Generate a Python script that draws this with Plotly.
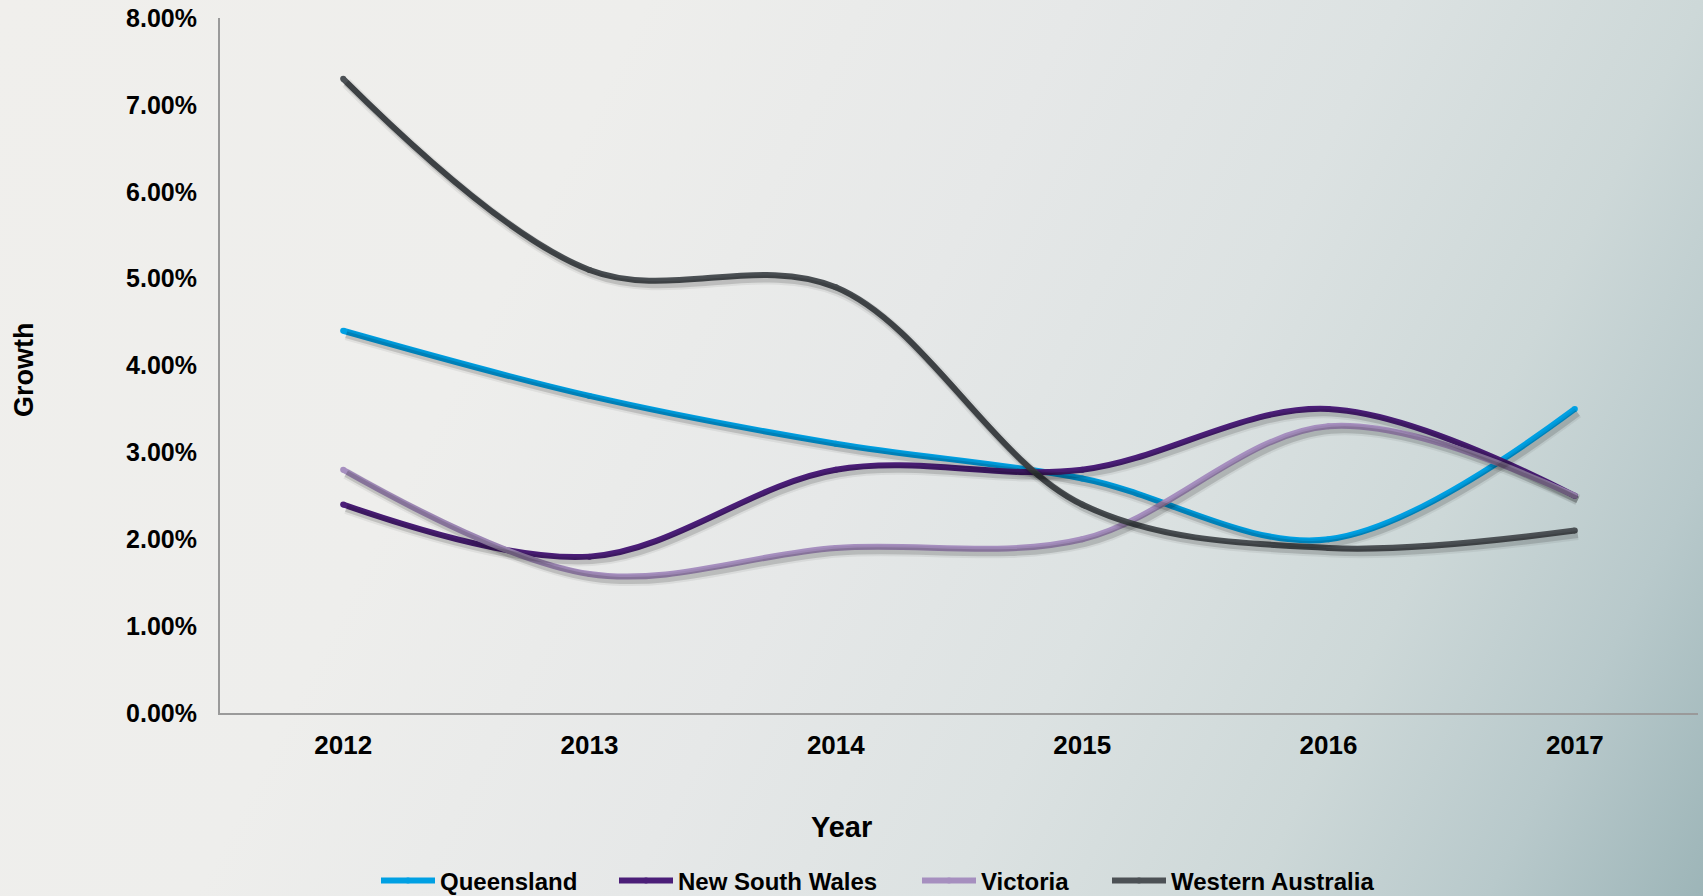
import base64
import plotly.graph_objects as go

# Annual growth by state (percent)
years = ["2012", "2013", "2014", "2015", "2016", "2017"]
queensland = [4.40, 3.65, 3.10, 2.70, 2.00, 3.50]
new_south_wales = [2.40, 1.80, 2.80, 2.80, 3.50, 2.50]
victoria = [2.80, 1.60, 1.90, 2.00, 3.30, 2.50]
western_australia = [7.30, 5.10, 4.90, 2.40, 1.90, 2.10]

series_names = ["Queensland", "New South Wales", "Victoria", "Western Australia"]
series_values = [queensland, new_south_wales, victoria, western_australia]
series_colors = ["#00a0e3", "#4b1e78", "#a68fbf", "#4c5155"]

y_ticks = [0, 1, 2, 3, 4, 5, 6, 7, 8]
y_tick_text = [f"{v:.2f}%" for v in y_ticks]

W, H = 1703, 896
M_L, M_R, M_T, M_B = 220, 5, 18, 183
PW, PH = W - M_L - M_R, H - M_T - M_B

# left edge (px) of each legend entry along the bottom row
legend_left_px = [376, 614, 917, 1107]
legend_mid_px = 881

# soft diagonal backdrop
svg = f"""<svg xmlns='http://www.w3.org/2000/svg' width='{W}' height='{H}' viewBox='0 0 {W} {H}' preserveAspectRatio='none'>
<defs><linearGradient id='g' gradientUnits='userSpaceOnUse' x1='0' y1='0' x2='1718' y2='866'>
<stop offset='0' stop-color='#f0efec'/>
<stop offset='0.3' stop-color='#eeeeec'/>
<stop offset='0.5' stop-color='#e6e8e8'/>
<stop offset='0.65' stop-color='#dce2e2'/>
<stop offset='0.79' stop-color='#cdd8d8'/>
<stop offset='0.9' stop-color='#b8c9cb'/>
<stop offset='1' stop-color='#9db5b8'/>
</linearGradient></defs>
<rect x='0' y='0' width='{W}' height='{H}' fill='url(#g)'/></svg>"""
bg_uri = "data:image/svg+xml;base64," + base64.b64encode(svg.encode()).decode()

fig = go.Figure()

# drop shadows on a slightly offset overlay axis pair
for vals in series_values:
    for width, alpha in ((11, 0.06), (7, 0.14)):
        fig.add_trace(go.Scatter(
            x=years, y=vals, mode="lines",
            line=dict(color=f"rgba(0,0,0,{alpha})", width=width, shape="spline", smoothing=1),
            xaxis="x2", yaxis="y2", showlegend=False, hoverinfo="skip",
        ))

legend_ids = ["legend", "legend2", "legend3", "legend4"]
for name, vals, color, lid in zip(series_names, series_values, series_colors, legend_ids):
    fig.add_trace(go.Scatter(
        x=years, y=vals, name=name, mode="lines+markers",
        line=dict(color=color, width=6, shape="spline", smoothing=1),
        marker=dict(color=color, size=6),
        legend=lid,
    ))

dx = 3 / (PW / 6)
dy = 4 / (PH / 8)

legend_font = dict(family="Liberation Sans", size=24, color="black", weight="bold")
legend_layouts = {}
for lid, left in zip(legend_ids, legend_left_px):
    legend_layouts[lid] = dict(
        orientation="h", x=(left - M_L) / PW, xanchor="left",
        y=-(legend_mid_px - (M_T + PH)) / PH, yanchor="middle",
        bgcolor="rgba(0,0,0,0)", borderwidth=0,
        font=legend_font, itemwidth=54,
    )

fig.update_layout(
    width=W, height=H,
    margin=dict(l=M_L, r=M_R, t=M_T, b=M_B, autoexpand=False),
    paper_bgcolor="rgba(0,0,0,0)",
    plot_bgcolor="rgba(0,0,0,0)",
    font=dict(family="Liberation Sans", color="black"),
    images=[dict(
        source=bg_uri, xref="paper", yref="paper",
        x=-M_L / PW, y=1 + M_T / PH, sizex=W / PW, sizey=H / PH,
        xanchor="left", yanchor="top", sizing="stretch", layer="below",
    )],
    xaxis=dict(
        type="category", range=[-0.5, 5.5],
        showgrid=False, zeroline=False,
        showline=True, linecolor="#9a9a9a", linewidth=2,
        ticks="", ticklabelstandoff=8,
        tickfont=dict(family="Liberation Sans", size=26, color="black", weight="bold"),
    ),
    yaxis=dict(
        range=[0, 8], tickvals=y_ticks, ticktext=y_tick_text,
        showgrid=False, zeroline=False,
        showline=True, linecolor="#9a9a9a", linewidth=2,
        ticks="", ticklabelstandoff=16,
        tickfont=dict(family="Liberation Sans", size=25, color="black", weight="bold"),
    ),
    xaxis2=dict(type="category", range=[-0.5 - dx, 5.5 - dx], overlaying="x",
                visible=False),
    yaxis2=dict(range=[dy, 8 + dy], overlaying="y", visible=False),
    annotations=[
        dict(text="<b>Year</b>", xref="paper", yref="paper",
             x=(841 - M_L) / PW, y=-(827 - (M_T + PH)) / PH,
             xanchor="center", yanchor="middle", showarrow=False,
             font=dict(family="Liberation Sans", size=29, color="black")),
        dict(text="<b>Growth</b>", xref="paper", yref="paper",
             x=(24 - M_L) / PW, y=(M_T + PH - 369) / PH, textangle=-90,
             xanchor="center", yanchor="middle", showarrow=False,
             font=dict(family="Liberation Sans", size=27, color="black")),
    ],
    **legend_layouts,
)

fig.write_html("out.html")
